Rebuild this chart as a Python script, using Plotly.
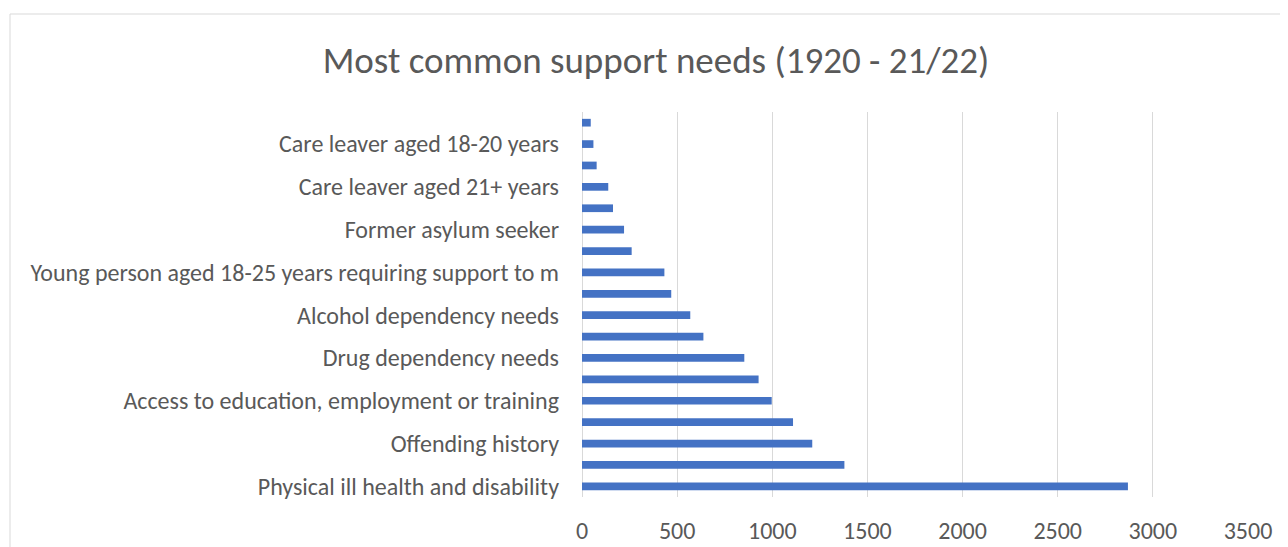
import plotly.graph_objects as go

# Categories listed bottom-to-top (as drawn)
categories = [
    "Physical ill health and disability",
    "History of mental health problems",
    "Offending history",
    "At risk of / has experienced domestic abuse",
    "Access to education, employment or training",
    "History of repeat homelessness",
    "Drug dependency needs",
    "History of rough sleeping",
    "Alcohol dependency needs",
    "Learning disability",
    "Young person aged 18-25 years requiring support to m",
    "Old age",
    "Former asylum seeker",
    "At risk of / has experienced sexual abuse / exploitation",
    "Care leaver aged 21+ years",
    "Served in HM Forces",
    "Care leaver aged 18-20 years",
    "Young person aged 16-17 years",
]
values = [2869, 1379, 1210, 1109, 997, 928, 853, 638, 569, 469, 433, 261, 221, 163, 138, 77, 60, 46]

# Only every other category label is shown (as in the reference)
shown_labels = categories[0::2]

title_text = "Most common support needs (1920 - 21/22)"
x_ticks = [0, 500, 1000, 1500, 2000, 2500, 3000, 3500]

FONT = "Carlito, 'Liberation Sans Narrow', 'Open Sans', sans-serif"
GREY = "#595959"

fig = go.Figure(
    go.Bar(
        x=values,
        y=categories,
        orientation="h",
        marker=dict(color="#4472C4", line=dict(width=0)),
    )
)

# page has an 8px body margin; figure coords = page coords - 8
OFF = 8
W, H = 1280, 539
ML, MR, MT, MB = 574, 40, 104, 50
pw = W - ML - MR
ph = H - MT - MB

fig.update_layout(
    width=W,
    height=H,
    margin=dict(l=ML, r=MR, t=MT, b=MB, autoexpand=False),
    paper_bgcolor="white",
    plot_bgcolor="white",
    bargap=0.64,
    showlegend=False,
    title=dict(
        text=title_text,
        x=(656 - OFF) / W,
        xanchor="center",
        y=1 - (60 - OFF) / H,
        yanchor="middle",
        font=dict(family=FONT, size=37, color=GREY),
    ),
    xaxis=dict(
        range=[0, 3500],
        tickvals=x_ticks,
        automargin=False,
        showgrid=True,
        gridcolor="#d9d9d9",
        gridwidth=1,
        zeroline=True,
        zerolinecolor="#d9d9d9",
        zerolinewidth=1,
        showline=False,
        ticks="",
        ticklabelstandoff=17,
        tickfont=dict(family=FONT, size=24, color=GREY),
    ),
    yaxis=dict(
        type="category",
        categoryorder="array",
        categoryarray=categories,
        tickvals=shown_labels,
        ticktext=shown_labels,
        automargin=False,
        showgrid=False,
        zeroline=False,
        showline=False,
        ticks="",
        ticklabelstandoff=22,
        tickfont=dict(family=FONT, size=24, color=GREY),
    ),
    shapes=[
        dict(
            type="rect",
            xref="paper",
            yref="paper",
            x0=(10 - OFF - ML) / pw,
            x1=(1310 - OFF - ML) / pw,
            y0=(MT + ph - (570 - OFF)) / ph,
            y1=(MT + ph - (14 - OFF)) / ph,
            line=dict(color="#d9d9d9", width=1),
            fillcolor="rgba(0,0,0,0)",
            layer="below",
        )
    ],
)

fig.write_html("out.html")
